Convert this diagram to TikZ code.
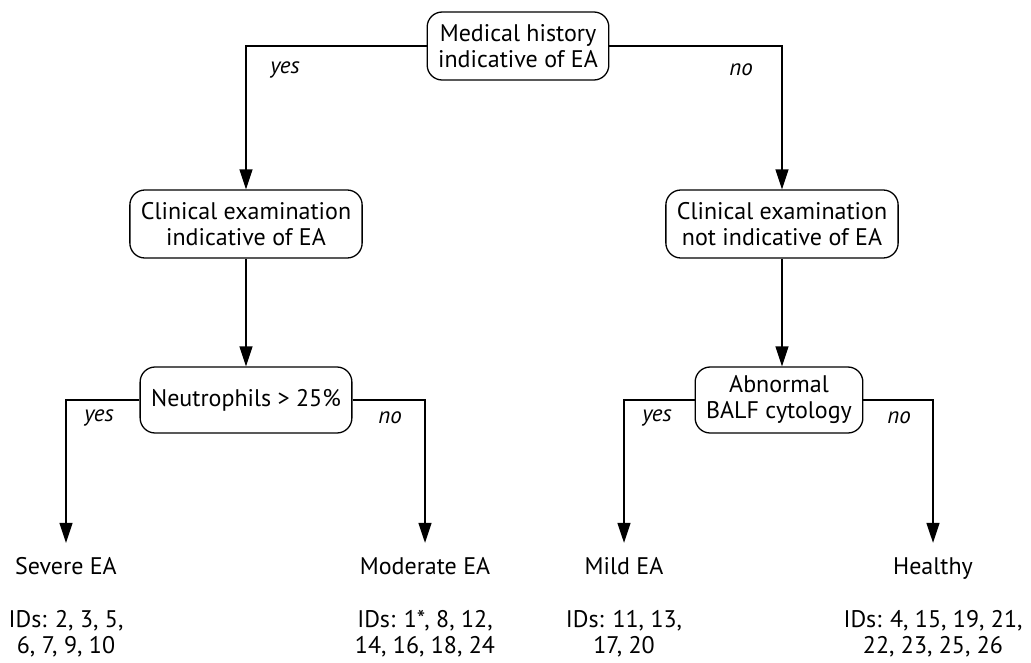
\documentclass[tikz,border=0pt]{standalone}
\usepackage{fontspec}
\setmainfont{PT Sans}
\usetikzlibrary{positioning,arrows.meta}
\tikzset{
  decision/.style={draw, rounded corners=15pt, line width=1.3pt, align=center,
    minimum height=68pt, inner xsep=11pt, font=\fontsize{24}{26}\selectfont},
  outcome/.style={inner sep=0pt, text height=18pt, text depth=6pt,
    font=\fontsize{24}{26}\selectfont},
  idlist/.style={inner sep=0pt, align=center, font=\fontsize{24}{26}\selectfont},
  answer/.style={font=\fontsize{23}{25}\selectfont\itshape},
  myarrow/.style={-{Triangle[length=20pt,width=13pt]}, line width=1.3pt},
}
\begin{document}
\begin{tikzpicture}[x=1pt,y=-1pt]
  \useasboundingbox (0,0) rectangle (1031,662);

  % questions
  \node[decision] (hist) at (518,46) {Medical history\\indicative of EA};
  \node[decision] (clinY) at (246,224) {Clinical examination\\indicative of EA};
  \node[decision] (clinN) at (782,224) {Clinical examination\\not indicative of EA};
  \node[decision, minimum height=66pt] (neut) at (246,400) {Neutrophils > 25\%};
  \node[decision, minimum height=66pt] (balf) at (779,400) {Abnormal\\BALF cytology};

  \draw[myarrow] (hist.west) -| (clinY.north);
  \draw[myarrow] (hist.east) -| (clinN.north);
  \node[answer] (histY) at (285,70) {yes};
  \node[answer] (histN) at (741,70) {no};

  \draw[myarrow] (clinY) -- (neut);
  \draw[myarrow] (clinN.south) -- (clinN.south |- balf.north);

  % outcomes
  \node[outcome] (severe) at (66,568) {Severe EA};
  \node[idlist, below=30pt of severe] (severeID) {IDs: 2, 3, 5,\\6, 7, 9, 10};
  \node[outcome] (moderate) at (425,568) {Moderate EA};
  \node[idlist, below=30pt of moderate] (moderateID) {IDs: 1*, 8, 12,\\14, 16, 18, 24};
  \node[outcome] (mild) at (624,568) {Mild EA};
  \node[idlist, below=30pt of mild] (mildID) {IDs: 11, 13,\\17, 20};
  \node[outcome] (healthy) at (933,568) {Healthy};
  \node[idlist, below=30pt of healthy] (healthyID) {IDs: 4, 15, 19, 21,\\22, 23, 25, 26};

  \draw[myarrow, shorten >=13pt] (neut.west) -| (severe.north);
  \draw[myarrow, shorten >=13pt] (neut.east) -| (moderate.north);
  \node[answer] (neutY) at (99,418) {yes};
  \node[answer] (neutN) at (390,418) {no};

  \draw[myarrow, shorten >=13pt] (balf.west) -| (mild.north);
  \draw[myarrow, shorten >=13pt] (balf.east) -| (healthy.north);
  \node[answer] (balfY) at (657,418) {yes};
  \node[answer] (balfN) at (899,418) {no};
\end{tikzpicture}
\end{document}
